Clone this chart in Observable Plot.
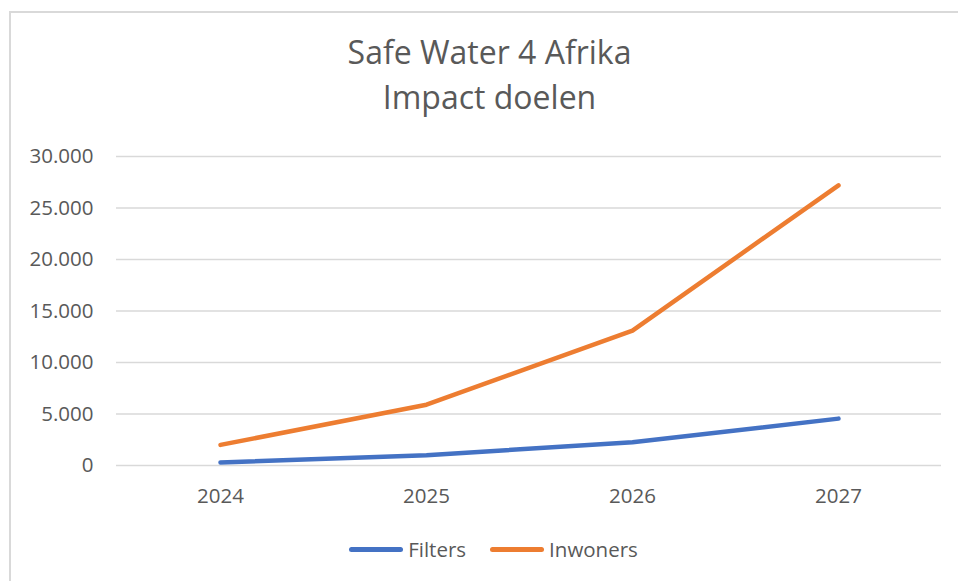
<!DOCTYPE html>
<html>
<head>
<meta charset="utf-8">
<script src="https://cdn.jsdelivr.net/npm/d3@7"></script>
<script src="https://cdn.jsdelivr.net/npm/@observablehq/plot@0.6"></script>
<style>
  html, body { margin: 0; padding: 0; background: #fff; overflow: hidden; width: 958px; height: 581px; }
  #frame { position: absolute; left: 9px; top: 11px; width: 1000px; height: 1000px; border: 2px solid #d9d9d9; box-sizing: border-box; }
  #title { position: absolute; left: 0; top: 29px; width: 979px; text-align: center; font-family: "Open Sans", sans-serif; font-size: 32px; line-height: 45px; color: #595959; }
  #chart { position: absolute; left: 0; top: 0; }
  #legend { position: absolute; left: 0; top: 537px; width: 987px; display: flex; justify-content: center; align-items: center; font-family: "Open Sans", sans-serif; font-size: 20.5px; line-height: 24px; color: #595959; }
  .item { display: flex; align-items: center; margin: 0 12px; }
  .swatch { width: 54px; height: 5px; border-radius: 3px; margin-right: 5px; }
</style>
</head>
<body>
<div id="frame"></div>
<div id="chart"></div>
<div id="title">Safe Water 4 Afrika<br>Impact doelen</div>
<div id="legend"></div>
<script>
const years = ["2024", "2025", "2026", "2027"];
const seriesNames = ["Filters", "Inwoners"];
const filters = [300, 1000, 2250, 4550];
const inwoners = [2000, 5900, 13100, 27200];
const yTicks = [0, 5000, 10000, 15000, 20000, 25000, 30000];
const colors = ["#4472C4", "#ED7D31"];

const nl = d3.formatLocale({decimal: ",", thousands: ".", grouping: [3], currency: ["€", ""]});
const fmt = nl.format(",");

const data = [];
years.forEach((y, i) => data.push({year: y, value: filters[i], series: seriesNames[0]}));
years.forEach((y, i) => data.push({year: y, value: inwoners[i], series: seriesNames[1]}));

const chart = Plot.plot({
  width: 958,
  height: 581,
  marginLeft: 116,
  marginRight: 17,
  marginTop: 156,
  marginBottom: 116,
  style: {fontFamily: "'Open Sans', sans-serif", fontSize: "20.5px", color: "#595959", background: "transparent", overflow: "visible"},
  x: {type: "point", domain: years, padding: 0.5, label: null},
  y: {domain: [0, 30000], label: null},
  color: {domain: seriesNames, range: colors},
  marks: [
    Plot.gridY(yTicks, {stroke: "#d9d9d9", strokeOpacity: 1, strokeWidth: 1.5}),
    Plot.axisY(yTicks, {tickSize: 0, tickPadding: 23, tickFormat: fmt, label: null}),
    Plot.axisX({tickSize: 0, tickPadding: 23, label: null}),
    Plot.line(data, {x: "year", y: "value", stroke: "series", strokeWidth: 4.5, strokeLinecap: "round", strokeLinejoin: "round"})
  ]
});
document.getElementById("chart").appendChild(chart);

const legend = document.getElementById("legend");
seriesNames.forEach((name, i) => {
  const item = document.createElement("div");
  item.className = "item";
  const sw = document.createElement("div");
  sw.className = "swatch";
  sw.style.background = colors[i];
  const label = document.createElement("span");
  label.textContent = name;
  item.appendChild(sw);
  item.appendChild(label);
  legend.appendChild(item);
});
</script>
</body>
</html>
